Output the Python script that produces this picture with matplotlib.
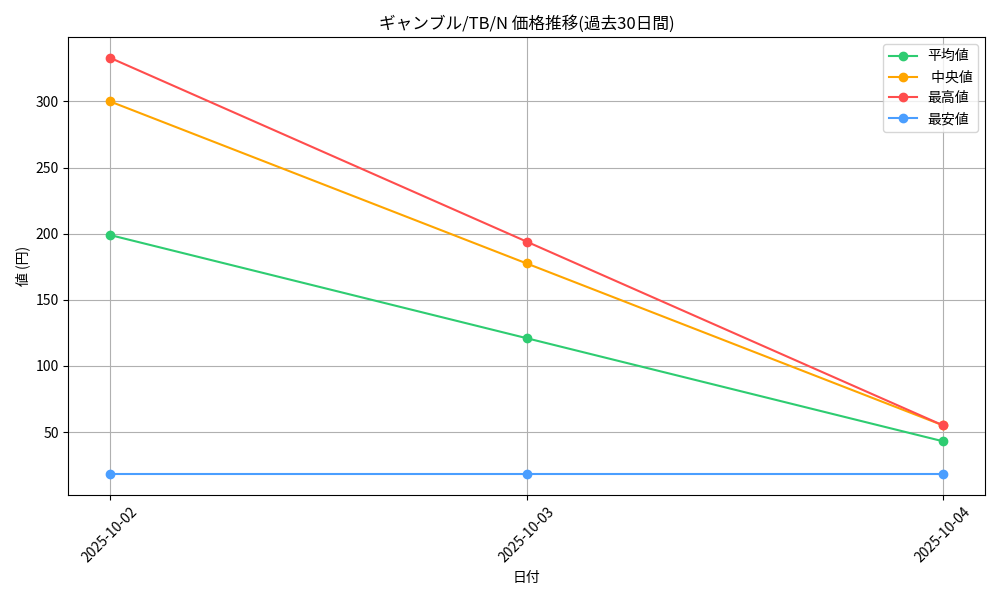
import matplotlib
matplotlib.use("Agg")
import matplotlib.pyplot as plt

plt.rcParams['font.family'] = ['Noto Sans CJK JP', 'DejaVu Sans']

dates = ["2025-10-02", "2025-10-03", "2025-10-04"]
avg_vals = [199, 121, 43]
median_vals = [300, 177.5, 55]
max_vals = [333, 194, 55]
min_vals = [18, 18, 18]

fig, ax = plt.subplots(figsize=(10, 6), dpi=100)
ax.plot(dates, avg_vals, marker='o', color='#2ecc71', label='平均値')
ax.plot(dates, median_vals, marker='o', color='#ffa500', label=' 中央値')
ax.plot(dates, max_vals, marker='o', color='#ff4d4d', label='最高値')
ax.plot(dates, min_vals, marker='o', color='#4a9eff', label='最安値')

ax.set_title('ギャンブル/TB/N 価格推移(過去30日間)')
ax.set_xlabel('日付')
ax.set_ylabel('値 (円)')
ax.grid(True)
ax.legend(loc='upper right')
plt.xticks(rotation=45)
plt.tight_layout()
plt.savefig('out.png')
